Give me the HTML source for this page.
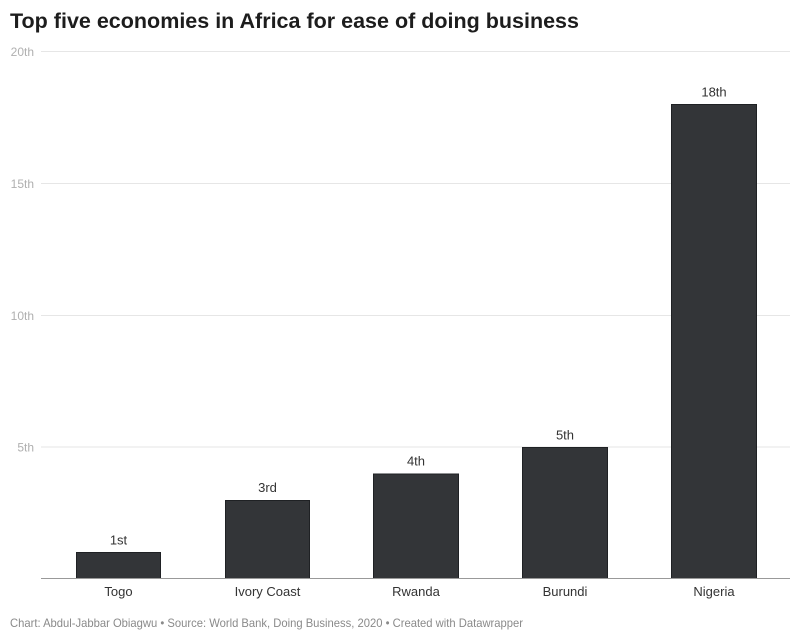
<!DOCTYPE html>
<html><head><meta charset="utf-8"><style>
html,body{margin:0;padding:0;background:#fff;}
svg{display:block;font-family:"Liberation Sans",Arial,sans-serif;}
</style></head><body>
<svg width="800" height="639" viewBox="0 0 800 639" xmlns="http://www.w3.org/2000/svg">
<text x="10" y="28" font-size="21" font-weight="bold" fill="#1d1d1d" textLength="569" lengthAdjust="spacingAndGlyphs">Top five economies in Africa for ease of doing business</text>
<g stroke="#e6e6e6" stroke-width="1">
<line x1="41" y1="51.5" x2="790" y2="51.5"/>
<line x1="41" y1="183.5" x2="790" y2="183.5"/>
<line x1="41" y1="315.5" x2="790" y2="315.5"/>
<line x1="41" y1="447" x2="790" y2="447"/>
</g>
<g font-size="12" fill="#b0b0b0" text-anchor="end">
<text x="34" y="56">20th</text>
<text x="34" y="188">15th</text>
<text x="34" y="320">10th</text>
<text x="34" y="451.5">5th</text>
</g>
<g fill="#333538" stroke="#1f2124" stroke-width="1">
<rect x="76.5" y="552.5" width="84" height="26"/>
<rect x="225.5" y="500.5" width="84" height="78"/>
<rect x="373.5" y="474" width="85" height="104.5"/>
<rect x="522.5" y="447.5" width="85" height="131"/>
<rect x="671.5" y="104.5" width="85" height="474"/>
</g>
<line x1="41" y1="578.5" x2="790" y2="578.5" stroke="#999" stroke-width="1"/>
<g font-size="13" fill="#333" text-anchor="middle">
<text x="118.5" y="544.5">1st</text>
<text x="267.5" y="492">3rd</text>
<text x="416" y="465.5">4th</text>
<text x="565" y="439.5">5th</text>
<text x="714" y="96.5">18th</text>
</g>
<g font-size="13" fill="#333" text-anchor="middle">
<text x="118.5" y="596">Togo</text>
<text x="267.5" y="596">Ivory Coast</text>
<text x="416" y="596">Rwanda</text>
<text x="565" y="596">Burundi</text>
<text x="714" y="596">Nigeria</text>
</g>
<text x="10" y="627" font-size="12" fill="#8a8a8a" textLength="513" lengthAdjust="spacingAndGlyphs">Chart: Abdul-Jabbar Obiagwu • Source: World Bank, Doing Business, 2020 • Created with Datawrapper</text>
</svg>
</body></html>
